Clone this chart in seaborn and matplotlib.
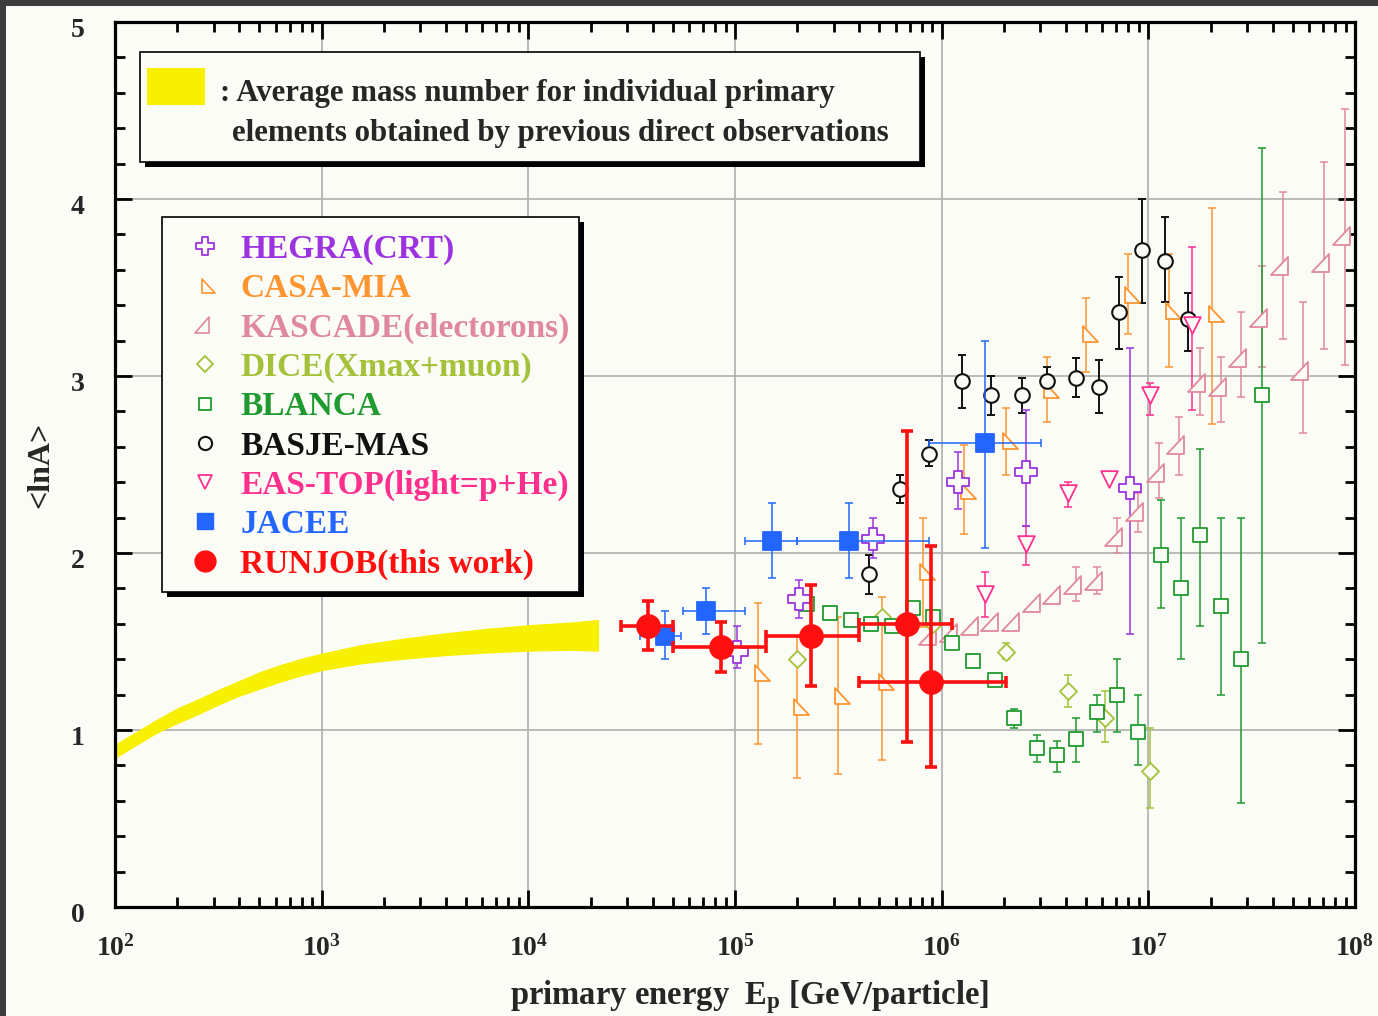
#!/usr/bin/env python
import numpy as np
import matplotlib
matplotlib.use("Agg")
from matplotlib import pyplot as plt
import matplotlib.transforms as mtransforms
from matplotlib.path import Path
from matplotlib.lines import Line2D
from matplotlib.patches import Rectangle
from matplotlib.ticker import MultipleLocator, LogLocator, NullFormatter
import seaborn as sns

W, H = 1378, 1016
BG = "#fcfcf6"

# yellow band: direct observations (log10 E, lower, upper)
band_logE = [2.0, 2.1, 2.2, 2.3, 2.4, 2.5, 2.6, 2.7, 2.8, 2.9, 3.0, 3.2, 3.4,
             3.6, 3.8, 4.0, 4.2, 4.34]
band_lo = [0.84, 0.91, 0.98, 1.035, 1.085, 1.14, 1.19, 1.23, 1.27, 1.305, 1.335,
           1.375, 1.40, 1.42, 1.435, 1.445, 1.45, 1.445]
band_hi = [0.92, 0.99, 1.06, 1.125, 1.175, 1.23, 1.28, 1.33, 1.37, 1.405, 1.435,
           1.485, 1.52, 1.55, 1.575, 1.595, 1.61, 1.625]

# HEGRA(CRT)
hegra_logE = [5.01, 5.31, 5.67, 6.08, 6.41, 6.91]
hegra_y = [1.44, 1.74, 2.08, 2.40, 2.46, 2.37]
hegra_lo = [1.35, 1.63, 1.97, 2.25, 2.15, 1.54]
hegra_hi = [1.59, 1.85, 2.20, 2.57, 2.81, 3.16]

# CASA-MIA
casa_logE = [5.11, 5.30, 5.50, 5.71, 5.91, 6.11, 6.31, 6.51, 6.70, 6.90, 7.10, 7.31]
casa_y = [1.32, 1.13, 1.19, 1.27, 1.89, 2.35, 2.63, 2.92, 3.24, 3.46, 3.37, 3.35]
casa_lo = [0.92, 0.73, 0.75, 0.83, 1.58, 2.11, 2.44, 2.74, 3.02, 3.24, 3.05, 2.73]
casa_hi = [1.72, 1.53, 1.64, 1.75, 2.20, 2.61, 2.82, 3.11, 3.44, 3.69, 3.69, 3.95]

# KASCADE(electrons)
kas_logE = [5.95, 6.05, 6.15, 6.25, 6.35, 6.45, 6.55, 6.65, 6.75, 6.85, 6.95,
            7.05, 7.15, 7.25, 7.35, 7.45, 7.55, 7.65, 7.75, 7.85, 7.95]
kas_y = [1.53, 1.55, 1.59, 1.61, 1.61, 1.72, 1.76, 1.82, 1.84, 2.09, 2.23,
         2.45, 2.61, 2.96, 2.94, 3.10, 3.33, 3.62, 3.03, 3.64, 3.79]
kas_lo = [1.53, 1.55, 1.59, 1.61, 1.61, 1.72, 1.76, 1.73, 1.77, 2.00, 2.12,
          2.31, 2.44, 2.78, 2.74, 2.88, 3.05, 3.21, 2.68, 3.15, 3.06]
kas_hi = [1.53, 1.55, 1.59, 1.61, 1.61, 1.72, 1.76, 1.92, 1.92, 2.20, 2.34,
          2.62, 2.77, 3.16, 3.11, 3.36, 3.62, 4.04, 3.42, 4.21, 4.51]

# DICE(Xmax+muon)
dice_logE = [5.30, 5.71, 5.96, 6.31, 6.61, 6.79, 7.01]
dice_y = [1.40, 1.64, 1.60, 1.44, 1.22, 1.07, 0.77]
dice_lo = [1.40, 1.64, 1.60, 1.40, 1.13, 0.93, 0.56]
dice_hi = [1.40, 1.64, 1.60, 1.49, 1.31, 1.22, 1.01]

# BLANCA
blanca_logE = [5.35, 5.46, 5.56, 5.66, 5.76, 5.86, 5.96, 6.05, 6.15, 6.26, 6.35, 6.46,
               6.56, 6.65, 6.75, 6.85, 6.95, 7.06, 7.16, 7.25, 7.35, 7.45, 7.55]
blanca_y = [1.71, 1.66, 1.62, 1.60, 1.59, 1.69, 1.64, 1.49, 1.39, 1.28, 1.07, 0.90,
            0.86, 0.95, 1.10, 1.20, 0.99, 1.99, 1.80, 2.10, 1.70, 1.40, 2.89]
blanca_lo = [1.71, 1.66, 1.62, 1.60, 1.59, 1.69, 1.64, 1.49, 1.39, 1.28, 1.01, 0.82,
             0.76, 0.82, 0.99, 0.99, 0.80, 1.69, 1.40, 1.59, 1.20, 0.59, 1.49]
blanca_hi = [1.71, 1.66, 1.62, 1.60, 1.59, 1.69, 1.64, 1.49, 1.39, 1.28, 1.12, 0.97,
             0.94, 1.07, 1.20, 1.40, 1.20, 2.30, 2.20, 2.59, 2.20, 2.20, 4.29]

# BASJE-MAS
basje_logE = [5.65, 5.80, 5.94, 6.10, 6.24, 6.39, 6.51, 6.65, 6.76, 6.86, 6.97, 7.08, 7.19]
basje_y = [1.88, 2.36, 2.56, 2.97, 2.89, 2.89, 2.97, 2.99, 2.94, 3.36, 3.71, 3.65, 3.32]
basje_lo = [1.77, 2.28, 2.49, 2.82, 2.78, 2.79, 2.88, 2.88, 2.79, 3.15, 3.41, 3.42, 3.14]
basje_hi = [1.99, 2.44, 2.64, 3.12, 3.00, 2.99, 3.05, 3.10, 3.09, 3.56, 4.00, 3.90, 3.47]

# EAS-TOP(light=p+He)
eastop_logE = [6.21, 6.41, 6.61, 6.81, 7.01, 7.21]
eastop_y = [1.77, 2.05, 2.34, 2.42, 2.89, 3.29]
eastop_lo = [1.64, 1.93, 2.26, 2.42, 2.78, 2.81]
eastop_hi = [1.89, 2.15, 2.40, 2.42, 2.96, 3.73]

# JACEE
jacee_logE = [4.66, 4.86, 5.18, 5.55, 6.21]
jacee_y = [1.53, 1.67, 2.07, 2.07, 2.62]
jacee_lo = [1.40, 1.54, 1.86, 1.86, 2.03]
jacee_hi = [1.67, 1.80, 2.28, 2.28, 3.20]
jacee_xlo = [4.54, 4.75, 5.05, 5.30, 5.94]
jacee_xhi = [4.74, 5.05, 5.30, 5.94, 6.48]

# RUNJOB (this work)
runjob_logE = [4.58, 4.93, 5.37, 5.83, 5.95]
runjob_y = [1.59, 1.47, 1.53, 1.60, 1.27]
runjob_lo = [1.45, 1.33, 1.25, 0.93, 0.79]
runjob_hi = [1.73, 1.61, 1.82, 2.69, 2.04]
runjob_xlo = [4.45, 4.70, 5.15, 5.60, 5.60]
runjob_xhi = [4.70, 5.15, 5.60, 6.05, 6.31]

labels = ["HEGRA(CRT)", "CASA-MIA", "KASCADE(electorons)", "DICE(Xmax+muon)", "BLANCA",
          "BASJE-MAS", "EAS-TOP(light=p+He)", "JACEE", "RUNJOB(this work)"]
colors = ["#9d33e0", "#ff9530", "#e0899c", "#a3c23a", "#1f9a2e",
          "#111111", "#ff2f8e", "#2266ff", "#ff1010"]

# custom marker shapes
plus_m = Path([(-0.33, 1), (0.33, 1), (0.33, 0.33), (1, 0.33), (1, -0.33), (0.33, -0.33),
               (0.33, -1), (-0.33, -1), (-0.33, -0.33), (-1, -0.33), (-1, 0.33),
               (-0.33, 0.33), (-0.33, 1)], closed=True)
casa_m = Path([(-0.35, 1), (-0.35, -1), (1.45, -1), (-0.35, 1)], closed=True)
kas_m = Path([(-1.3, -1), (0.5, -1), (0.5, 1), (-1.3, -1)], closed=True)

sns.set_theme(style="ticks")
plt.rcParams["font.family"] = ["Liberation Serif", "DejaVu Serif"]
plt.rcParams["font.weight"] = "bold"
plt.rcParams["mathtext.fontset"] = "custom"
plt.rcParams["mathtext.rm"] = "Liberation Serif:bold"
plt.rcParams["mathtext.it"] = "Liberation Serif:bold"
plt.rcParams["mathtext.bf"] = "Liberation Serif:bold"
plt.rcParams["mathtext.default"] = "regular"


def fx(px):
    return px / W


def fy(py):
    return 1 - py / H


fig = plt.figure(figsize=(W / 100, H / 100), dpi=100)
fig.patch.set_facecolor("#3c3c3c")
fig.add_artist(Rectangle((fx(6), 0), 1, fy(6), transform=fig.transFigure,
                         facecolor=BG, edgecolor="none", zorder=-10))

ax = fig.add_axes([fx(115), fy(907), (1355 - 115) / W, (907 - 22) / H])
ax.set_facecolor(BG)


def plot_set(logE, y, lo, hi, color, marker, size, face, ew=1.3, elw=1.1, cap=3.2,
             xlo=None, xhi=None, z=3):
    e = np.power(10.0, logE)
    y = np.asarray(y)
    lo = np.asarray(lo)
    hi = np.asarray(hi)
    if xlo is not None:
        xerr = [e - np.power(10.0, xlo), np.power(10.0, xhi) - e]
        ax.errorbar(e, y, yerr=[y - lo, hi - y], xerr=xerr, fmt="none", ecolor=color,
                    elinewidth=elw, capsize=cap, capthick=elw, zorder=z)
    else:
        m = (hi - lo) > 0
        if m.any():
            ax.errorbar(e[m], y[m], yerr=[y[m] - lo[m], hi[m] - y[m]], fmt="none",
                        ecolor=color, elinewidth=elw, capsize=cap, capthick=elw, zorder=z)
    sns.scatterplot(x=e, y=y, ax=ax, marker=marker, s=size ** 2, facecolor=face,
                    edgecolor=color, linewidth=ew, zorder=z + 0.5, legend=False)


ax.fill_between(np.power(10.0, band_logE), band_lo, band_hi, color="#f7f000", lw=0, zorder=2)

plot_set(kas_logE, kas_y, kas_lo, kas_hi, colors[2], kas_m, 17, BG)
plot_set(casa_logE, casa_y, casa_lo, casa_hi, colors[1], casa_m, 17.5, BG)
plot_set(dice_logE, dice_y, dice_lo, dice_hi, colors[3], "D", 8.7, BG)
plot_set(blanca_logE, blanca_y, blanca_lo, blanca_hi, colors[4], "s", 10, BG)
plot_set(basje_logE, basje_y, basje_lo, basje_hi, colors[5], "o", 10.5, BG, ew=1.5, elw=1.4)
plot_set(eastop_logE, eastop_y, eastop_lo, eastop_hi, colors[6], "v", 12, BG)
plot_set(hegra_logE, hegra_y, hegra_lo, hegra_hi, colors[0], plus_m, 15.5, BG)
plot_set(jacee_logE, jacee_y, jacee_lo, jacee_hi, colors[7], "s", 13, colors[7],
         xlo=jacee_xlo, xhi=jacee_xhi, z=5)
plot_set(runjob_logE, runjob_y, runjob_lo, runjob_hi, colors[8], "o", 16.5, colors[8],
         elw=2.6, cap=4.5, xlo=runjob_xlo, xhi=runjob_xhi, z=6)

ax.set_xscale("log")
ax.set_xlim(1e2, 1e8)
ax.set_ylim(0, 5)
ax.set_xticks([1e2, 1e3, 1e4, 1e5, 1e6, 1e7, 1e8])
ax.set_xticklabels([r"$\mathdefault{10^{%d}}$" % k for k in range(2, 9)])
ax.xaxis.set_minor_locator(LogLocator(base=10, subs=np.arange(2, 10)))
ax.xaxis.set_minor_formatter(NullFormatter())
ax.set_yticks([0, 1, 2, 3, 4, 5])
ax.set_yticklabels(["0", "1", "2", "3", "4", "5"])
ax.yaxis.set_minor_locator(MultipleLocator(0.2))
ax.tick_params(which="both", direction="in", top=True, right=True, color="black", width=2)
ax.tick_params(which="major", length=12)
ax.tick_params(which="minor", length=7)
ax.tick_params(axis="y", which="major", pad=22, labelsize=20)
ax.tick_params(axis="x", which="major", pad=20, labelsize=20)
ax.grid(True, which="major", color="#b4b4b4", lw=1.3)
ax.set_axisbelow(True)
for s in ax.spines.values():
    s.set_linewidth(2.3)
    s.set_color("black")

# y tick labels sit a little below their ticks in the original
shift = mtransforms.ScaledTranslation(0, -4 / 72, fig.dpi_scale_trans)
for lab in ax.get_yticklabels():
    lab.set_transform(lab.get_transform() + shift)

ax.set_ylabel("<lnA>", fontsize=23, fontweight="bold")
ax.yaxis.set_label_coords(-0.048, 0.5)
ax.set_xlabel(r"primary energy  E$_{p}$ [GeV/particle]", fontsize=23.5, fontweight="bold")
ax.xaxis.set_label_coords(0.512, -0.08)

# box for direct observations
fig.add_artist(Rectangle((fx(145), fy(167)), (920 - 140) / W, (162 - 52) / H,
                         transform=fig.transFigure, facecolor="black", edgecolor="none", zorder=3.9))
fig.add_artist(Rectangle((fx(140), fy(162)), (920 - 140) / W, (162 - 52) / H,
                         transform=fig.transFigure, facecolor=BG, edgecolor="black", lw=1.2, zorder=4))
fig.add_artist(Rectangle((fx(147), fy(105)), (205 - 147) / W, (105 - 68) / H,
                         transform=fig.transFigure, facecolor="#f7f000", edgecolor="none", zorder=4.5))
fig.text(fx(220), fy(93), ": Average mass number for individual primary", fontsize=22.2,
         fontweight="bold", va="center", ha="left", zorder=5)
fig.text(fx(232), fy(133), "elements obtained by previous direct observations", fontsize=22.2,
         fontweight="bold", va="center", ha="left", zorder=5)

# legend box
fig.add_artist(Rectangle((fx(167), fy(597)), (579 - 162) / W, (592 - 217) / H,
                         transform=fig.transFigure, facecolor="black", edgecolor="none", zorder=3.9))
fig.add_artist(Rectangle((fx(162), fy(592)), (579 - 162) / W, (592 - 217) / H,
                         transform=fig.transFigure, facecolor=BG, edgecolor="black", lw=1.2, zorder=4))

handles = [
    Line2D([], [], ls="none", marker=plus_m, ms=13, mfc=BG, mec=colors[0], mew=1.3),
    Line2D([], [], ls="none", marker=casa_m, ms=15, mfc=BG, mec=colors[1], mew=1.2),
    Line2D([], [], ls="none", marker=kas_m, ms=15, mfc=BG, mec=colors[2], mew=1.2),
    Line2D([], [], ls="none", marker="D", ms=8, mfc=BG, mec=colors[3], mew=1.3),
    Line2D([], [], ls="none", marker="s", ms=9, mfc=BG, mec=colors[4], mew=1.3),
    Line2D([], [], ls="none", marker="o", ms=9.5, mfc=BG, mec=colors[5], mew=1.5),
    Line2D([], [], ls="none", marker="v", ms=10, mfc=BG, mec=colors[6], mew=1.3),
    Line2D([], [], ls="none", marker="s", ms=12, mfc=colors[7], mec=colors[7]),
    Line2D([], [], ls="none", marker="o", ms=15, mfc=colors[8], mec=colors[8]),
]
leg = fig.legend(handles, labels, loc="upper left", bbox_to_anchor=(fx(185), fy(234)),
                 frameon=False, prop={"family": "Liberation Serif", "weight": "bold", "size": 24},
                 handlelength=1.2, handletextpad=0.45, labelspacing=0.245,
                 borderpad=0, borderaxespad=0)
leg.set_zorder(5)
for t, c in zip(leg.get_texts(), colors):
    t.set_color(c)

fig.savefig("out.png", dpi=100, facecolor=fig.get_facecolor())
